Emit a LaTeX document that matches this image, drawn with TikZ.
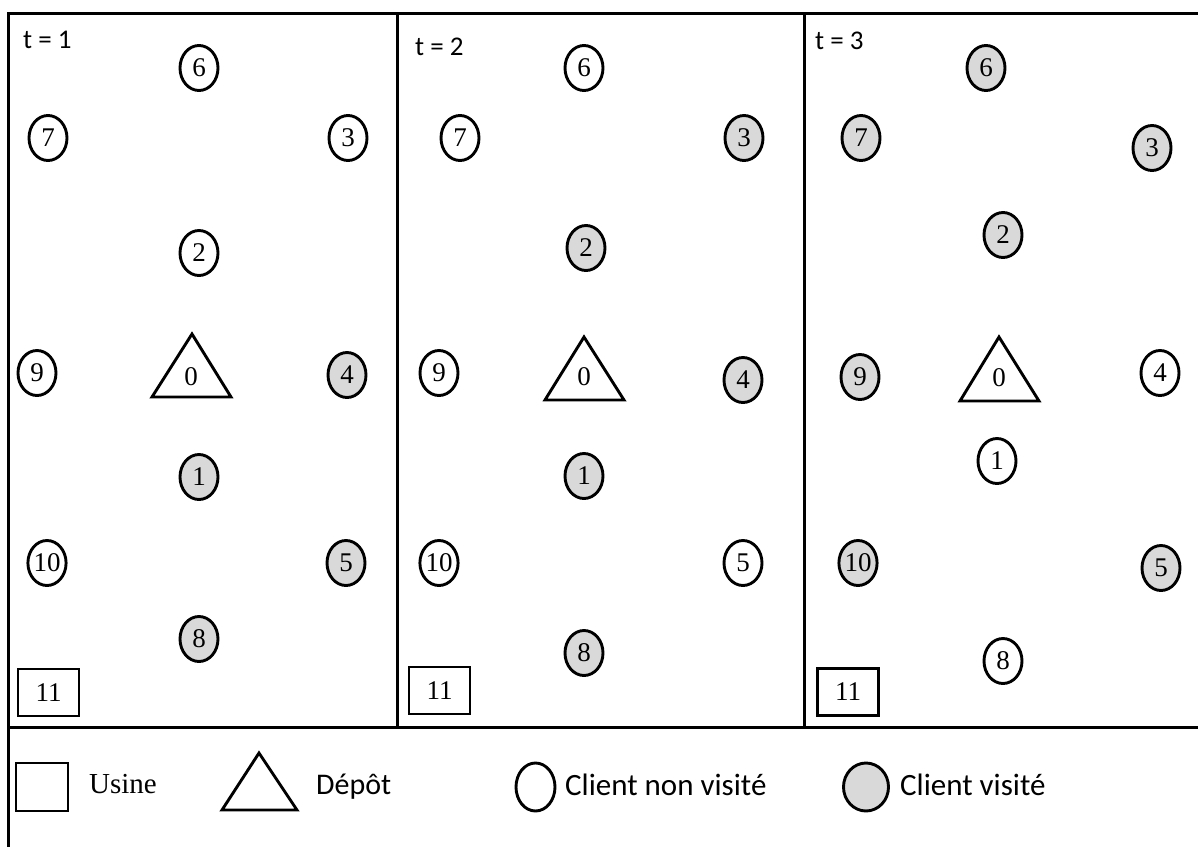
\documentclass[tikz,border=0pt]{standalone}
\usepackage{fontspec}
\setmainfont{Liberation Serif}
\newfontfamily\carlito{Carlito}
\usetikzlibrary{shapes.geometric}
\definecolor{visited}{HTML}{D9D9D9}
\tikzset{
  cli/.style={ellipse,draw,line width=2.9bp,minimum width=38bp,minimum height=45bp,inner sep=0pt,font=\fontsize{27bp}{30bp}\selectfont},
  vis/.style={cli,fill=visited},
  num/.style={inner sep=0pt,font=\fontsize{27bp}{30bp}\selectfont},
  frameline/.style={line width=3bp},
  shp/.style={draw,line width=2.9bp,line join=miter},
  usinebox/.style={draw,line width=2.9bp,minimum width=61bp,minimum height=47bp,inner sep=0pt,font=\fontsize{27bp}{30bp}\selectfont},
  tlab/.style={anchor=base west,inner sep=0pt,font=\carlito\fontsize{27bp}{30bp}\selectfont},
  serlab/.style={anchor=base west,inner sep=0pt,font=\fontsize{29bp}{32bp}\selectfont},
  sanslab/.style={anchor=base west,inner sep=0pt,font=\carlito\fontsize{31bp}{34bp}\selectfont}
}
\begin{document}
\begin{tikzpicture}[x=1bp,y=-1bp]
\useasboundingbox (0,0) rectangle (1198,847);
% frame
\draw[frameline] (1198,13) -- (8,13) -- (8,847);
\draw[frameline] (8,727) -- (1198,727);
\draw[frameline] (397,13) -- (397,727);
\draw[frameline] (804,13) -- (804,727);

% ---------- panel t = 1
\node[tlab] (t1) at (23,48) {t = 1};
\node[cli] (a6) at (199,68) {6};
\node[cli] (a7) at (48,138) {7};
\node[cli] (a3) at (348,138) {3};
\node[cli] (a2) at (199,253) {2};
\node[cli] (a9) at (37,373) {9};
\node[vis] (a4) at (347,375) {4};
\node[vis] (a1) at (199,477) {1};
\node[cli] (a10) at (47,563) {10};
\node[vis] (a5) at (346,563) {5};
\node[vis] (a8) at (199,639) {8};
\draw[shp] (192,334) -- (231,397) -- (152,397) -- cycle;
\node[num] (a0) at (191,377) {0};
\node[usinebox] (a11) at (48.5,692.5) {11\hspace{8bp}};

% ---------- panel t = 2
\node[tlab] (t2) at (415,55) {t = 2};
\node[cli] (b6) at (584,68) {6};
\node[cli] (b7) at (460,138) {7};
\node[vis] (b3) at (744,138) {3};
\node[vis] (b2) at (586,248) {2};
\node[cli] (b9) at (439,373) {9};
\node[vis] (b4) at (743,380) {4};
\node[vis] (b1) at (584,476) {1};
\node[cli] (b10) at (439,563) {10};
\node[cli] (b5) at (743,563) {5};
\node[vis] (b8) at (584,653) {8};
\draw[shp] (584,337) -- (624,400) -- (545,400) -- cycle;
\node[num] (b0) at (584,377) {0};
\node[usinebox] (b11) at (439.5,690.5) {11\hspace{8bp}};

% ---------- panel t = 3
\node[tlab] (t3) at (815,49) {t = 3};
\node[vis] (c6) at (986,68) {6};
\node[vis] (c7) at (861,138) {7};
\node[vis] (c3) at (1152,148) {3};
\node[vis] (c2) at (1003,235) {2};
\node[vis] (c9) at (860,377) {9};
\node[cli] (c4) at (1160,373) {4};
\node[cli] (c1) at (997,461) {1};
\node[vis] (c10) at (858,563) {10};
\node[vis] (c5) at (1161,568) {5};
\node[cli] (c8) at (1003,661) {8};
\draw[shp] (999,337) -- (1039,401) -- (960,401) -- cycle;
\node[num] (c0) at (999,378) {0};
\node[usinebox] (c11) at (848,692) {11\hspace{8bp}};

% ---------- legend
\node[draw,line width=2.9bp,minimum width=52bp,minimum height=48bp,inner sep=0pt] (lu) at (42,787) {};
\node[serlab] (lut) at (89,793) {Usine};
\draw[shp] (259,753) -- (297,810) -- (222,810) -- cycle;
\node[sanslab,font=\carlito\fontsize{30bp}{33bp}\selectfont] (ldt) at (316,794) {Dépôt};
\node[cli,minimum width=39bp,minimum height=48bp] (lw) at (535.5,787) {};
\node[sanslab] (lwt) at (565,795) {Client non visité};
\node[vis,minimum width=45bp,minimum height=48bp] (lg) at (866,787) {};
\node[sanslab] (lgt) at (900,795) {Client visité};
\end{tikzpicture}
\end{document}
